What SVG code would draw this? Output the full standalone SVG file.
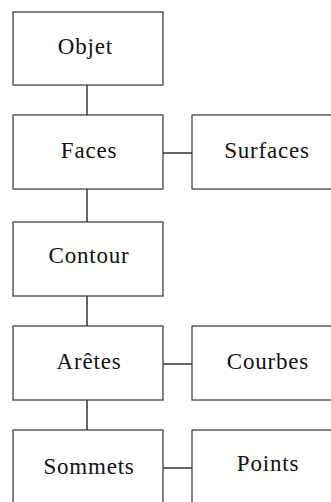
<svg xmlns="http://www.w3.org/2000/svg" width="331" height="502" viewBox="0 0 331 502">
<style>
.box{fill:#fff;stroke:#333;stroke-width:1.2}
.lbl{font-family:"Liberation Serif",serif;font-size:23px;letter-spacing:0.8px;fill:#111;text-anchor:middle}
.con{stroke:#000;stroke-width:1.2;fill:none}
</style>
<rect width="331" height="502" fill="#fff"/>
<g id="connectors">
<line class="con" x1="87" y1="85" x2="87" y2="115"/>
<line class="con" x1="87" y1="189" x2="87" y2="222"/>
<line class="con" x1="87" y1="296" x2="87" y2="326"/>
<line class="con" x1="87" y1="400" x2="87" y2="430"/>
<line class="con" x1="163" y1="153" x2="192" y2="153"/>
<line class="con" x1="163" y1="364" x2="192" y2="364"/>
<line class="con" x1="163" y1="468" x2="192" y2="468"/>
</g>
<g id="objet"><rect class="box" x="13" y="12" width="150" height="73"/><text class="lbl" x="85.4" y="54">Objet</text></g>
<g id="faces"><rect class="box" x="13" y="115" width="150" height="74"/><text class="lbl" x="89" y="158">Faces</text></g>
<g id="surfaces"><rect class="box" x="192" y="115" width="150" height="74"/><text class="lbl" x="267" y="158">Surfaces</text></g>
<g id="contour"><rect class="box" x="13" y="222" width="150" height="74"/><text class="lbl" x="89" y="263">Contour</text></g>
<g id="aretes"><rect class="box" x="13" y="326" width="150" height="74"/><text class="lbl" x="89" y="369">Arêtes</text></g>
<g id="courbes"><rect class="box" x="192" y="326" width="150" height="74"/><text class="lbl" x="268" y="369">Courbes</text></g>
<g id="sommets"><rect class="box" x="13" y="430" width="150" height="80"/><text class="lbl" x="89" y="474">Sommets</text></g>
<g id="points"><rect class="box" x="192" y="430" width="150" height="80"/><text class="lbl" x="268" y="471">Points</text></g>
</svg>
